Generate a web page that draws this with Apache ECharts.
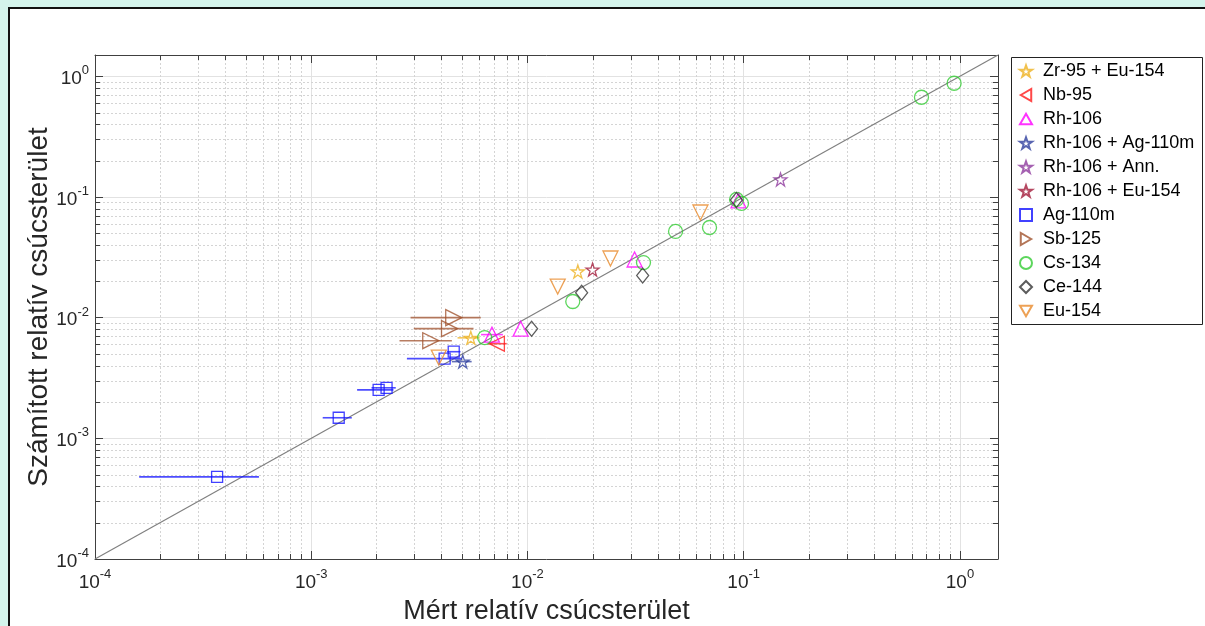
<!DOCTYPE html>
<html>
<head>
<meta charset="utf-8">
<script src="https://cdn.jsdelivr.net/npm/echarts@6/dist/echarts.min.js"></script>
<style>
html,body{margin:0;padding:0;width:1205px;height:626px;overflow:hidden;background:#d4f4ec;}
#panel{position:absolute;left:8px;top:7px;width:1197px;height:619px;background:#fff;border-left:2px solid #111;border-top:2px solid #111;}
#chart{position:absolute;left:0;top:0;width:1205px;height:626px;}
</style>
</head>
<body>
<div id="panel"></div>
<div id="chart"></div>
<script>
// ---- data (measured x, calculated y) ----
var seriesNames = ['Zr-95 + Eu-154','Nb-95','Rh-106','Rh-106 + Ag-110m','Rh-106 + Ann.','Rh-106 + Eu-154','Ag-110m','Sb-125','Cs-134','Ce-144','Eu-154'];
var zr95Eu154 = [[0.0171,0.0241],[0.00547,0.0068]];
var nb95 = [[0.00722,0.00608]];
var rh106 = [[0.00685,0.00723],[0.0093,0.0081],[0.0313,0.0303],[0.0946,0.0937]];
var rh106Ag110m = [[0.00502,0.00432]];
var rh106Ann = [[0.148,0.1397]];
var rh106Eu154 = [[0.0200,0.0250]];
var ag110m = [[0.000367,0.000479],[0.00134,0.00148],[0.00205,0.00252],[0.00223,0.00262],[0.00414,0.00457],[0.00456,0.00522]];
var sb125 = [[0.00456,0.0100],[0.00436,0.0081],[0.00357,0.00644]];
var cs134 = [[0.94,0.875],[0.664,0.67],[0.0927,0.0953],[0.0977,0.0883],[0.0695,0.0558],[0.0484,0.0518],[0.0344,0.0286],[0.0162,0.0136],[0.00634,0.00683]];
var ce144 = [[0.0341,0.0223],[0.0178,0.0161],[0.01045,0.0081],[0.0925,0.0945]];
var eu154 = [[0.0631,0.0743],[0.0242,0.0309],[0.0138,0.0181],[0.00389,0.00466]];
// horizontal error bars: [x, y, xLow, xHigh]
var zrErr = [[0.00547,0.0068,0.00475,0.00601]];
var nbErr = [[0.00722,0.00608,0.00655,0.00802]];
var rhErr = [[0.00685,0.00723,0.0061,0.0077]];
var rhAgErr = [[0.00502,0.00432,0.00447,0.00552]];
var agErr = [[0.000367,0.000479,0.000160,0.000573],[0.00134,0.00148,0.00113,0.00154],[0.00205,0.00252,0.00163,0.00240],[0.00223,0.00262,0.00190,0.00246],[0.00414,0.00457,0.00277,0.00497],[0.00456,0.00522,0.00425,0.00490]];
var sbErr = [[0.00456,0.0100,0.00288,0.00608],[0.00436,0.0081,0.00298,0.00563],[0.00357,0.00644,0.00256,0.00447]];
var identityLine = [[1e-4,1e-4],[1.5,1.5]];
var axisMin = 1e-4, axisMax = 1.5;

// ---- styling ----
var FONT = 'Liberation Sans, Arial, sans-serif';
var STAR = 'path://M50,0 L61.8,35.1 L98.8,35.1 L68.8,57 L80.2,92.1 L50,70.4 L19.8,92.1 L31.2,57 L1.2,35.1 L38.2,35.1 Z';
var TRI_UP = 'path://M50,0 L100,87 L0,87 Z';
var TRI_DOWN = 'path://M0,0 L100,0 L50,87 Z';
var TRI_LEFT = 'path://M0,50 L87,0 L87,100 Z';
var TRI_RIGHT = 'path://M87,50 L0,0 L0,100 Z';

var minorVals = [];
for (var k = -4; k <= 0; k++) {
  for (var m = 2; m <= 9; m++) {
    var v = m * Math.pow(10, k);
    if (v < axisMax) minorVals.push(v);
  }
}
var minorX = minorVals.map(function (v) { return [v, 0.01]; });
var minorY = minorVals.map(function (v) { return [0.01, v]; });

function supLabel(v) {
  var l = Math.log10(v), r = Math.round(l);
  if (Math.abs(l - r) > 1e-6) return '';
  return '{b|10}{s|' + r + '}';
}
var richLab = {
  b: {fontSize: 19, fontFamily: FONT, color: '#262626', lineHeight: 24, verticalAlign: 'bottom'},
  s: {fontSize: 13, fontFamily: FONT, color: '#262626', lineHeight: 24, verticalAlign: 'top'}
};

function scatter(name, data, symbol, size, color) {
  return {
    name: name, type: 'scatter', data: data, symbol: symbol, symbolSize: size, z: 5,
    itemStyle: {color: 'rgba(255,255,255,0)', borderColor: color, borderWidth: 1.3},
    emphasis: {disabled: true}
  };
}
function errBars(id, data, color) {
  return {
    name: id, type: 'custom', data: data, z: 4, silent: true,
    encode: {x: 0, y: 1},
    renderItem: function (params, api) {
      var p1 = api.coord([api.value(2), api.value(1)]);
      var p2 = api.coord([api.value(3), api.value(1)]);
      return {type: 'line', shape: {x1: p1[0], y1: p1[1], x2: p2[0], y2: p2[1]},
        style: {stroke: color, lineWidth: 1.6, opacity: 0.75}};
    }
  };
}
function minorSeries(id, data, isX) {
  return {
    name: id, type: 'custom', data: data, z: 1, silent: true,
    encode: {x: 0, y: 1},
    renderItem: function (params, api) {
      var cs = params.coordSys;
      var p = api.coord([api.value(0), api.value(1)]);
      var children = [];
      if (isX) {
        var x = Math.round(p[0]) + 0.5;
        children.push({type: 'line', shape: {x1: x, y1: cs.y, x2: x, y2: cs.y + cs.height}, style: {stroke: '#d4d4d4', lineWidth: 1, lineDash: [2, 2]}});
        children.push({type: 'line', shape: {x1: x, y1: cs.y + cs.height, x2: x, y2: cs.y + cs.height - 5}, style: {stroke: '#404040', lineWidth: 1}});
        children.push({type: 'line', shape: {x1: x, y1: cs.y, x2: x, y2: cs.y + 5}, style: {stroke: '#404040', lineWidth: 1}});
      } else {
        var y = Math.round(p[1]) + 0.5;
        children.push({type: 'line', shape: {x1: cs.x, y1: y, x2: cs.x + cs.width, y2: y}, style: {stroke: '#d4d4d4', lineWidth: 1, lineDash: [2, 2]}});
        children.push({type: 'line', shape: {x1: cs.x, y1: y, x2: cs.x + 5, y2: y}, style: {stroke: '#404040', lineWidth: 1}});
        children.push({type: 'line', shape: {x1: cs.x + cs.width, y1: y, x2: cs.x + cs.width - 5, y2: y}, style: {stroke: '#404040', lineWidth: 1}});
      }
      return {type: 'group', children: children};
    }
  };
}

var colors = {
  zr: '#edb120', nb: '#ff1a1a', rh: '#ff00ff', rhAg: '#2e3f9e', rhAnn: '#8e3a9e',
  rhEu: '#a21a3a', ag: '#1212ff', sb: '#a0522d', cs: '#33cc33', ce: '#333333', eu: '#e8892a'
};

var baseAxis = {
  type: 'log', logBase: 10, min: axisMin, max: axisMax,
  axisLine: {show: true, lineStyle: {color: '#404040', width: 1}},
  axisTick: {show: true, inside: true, length: 8, lineStyle: {color: '#404040'}},
  splitLine: {show: true, lineStyle: {color: '#e2e2e2', width: 1}},
  minorTick: {show: false}, minorSplitLine: {show: false}
};

var option = {
  backgroundColor: 'rgba(0,0,0,0)',
  animation: false,
  grid: {left: 95, right: 207, top: 55, bottom: 67, containLabel: false, outerBoundsMode: 'none'},
  xAxis: [
    Object.assign({}, baseAxis, {
      position: 'bottom',
      name: 'Mért relatív csúcsterület', nameLocation: 'middle', nameGap: 39,
      nameTextStyle: {fontSize: 27, fontFamily: FONT, color: '#262626'},
      axisLabel: {formatter: supLabel, rich: richLab, margin: 9, showMaxLabel: true}
    }),
    Object.assign({}, baseAxis, {position: 'top', axisLabel: {show: false}, splitLine: {show: false}})
  ],
  yAxis: [
    Object.assign({}, baseAxis, {
      position: 'left',
      name: 'Számított relatív csúcsterület', nameLocation: 'middle', nameGap: 42,
      nameMoveOverlap: false,
      nameTextStyle: {fontSize: 28, fontFamily: FONT, color: '#262626'},
      axisLabel: {formatter: supLabel, rich: richLab, margin: 6}
    }),
    Object.assign({}, baseAxis, {position: 'right', axisLabel: {show: false}, splitLine: {show: false}})
  ],
  legend: {
    orient: 'vertical', left: 1019, top: 62, itemWidth: 12, itemHeight: 12, itemGap: 6,
    padding: 0, data: seriesNames, selectedMode: false,
    textStyle: {fontSize: 18, lineHeight: 18, fontFamily: FONT, color: '#000', padding: [0, 0, 0, 6]}
  },
  graphic: [{
    type: 'rect', left: 1009, top: 55, shape: {width: 191, height: 267},
    style: {fill: 'none', stroke: '#222', lineWidth: 1}, z: 0
  }],
  series: [
    minorSeries('minorX', minorX, true),
    minorSeries('minorY', minorY, false),
    {name: 'identity', type: 'line', data: identityLine, symbol: 'none', z: 3, silent: true,
     lineStyle: {color: '#808080', width: 1.2}},
    errBars('errZr', zrErr, colors.zr),
    errBars('errNb', nbErr, colors.nb),
    errBars('errRh', rhErr, colors.rh),
    errBars('errRhAg', rhAgErr, colors.rhAg),
    errBars('errAg', agErr, colors.ag),
    errBars('errSb', sbErr, colors.sb),
    scatter(seriesNames[0], zr95Eu154, STAR, 13, colors.zr),
    scatter(seriesNames[1], nb95, TRI_LEFT, 15, colors.nb),
    scatter(seriesNames[2], rh106, TRI_UP, 15, colors.rh),
    scatter(seriesNames[3], rh106Ag110m, STAR, 13, colors.rhAg),
    scatter(seriesNames[4], rh106Ann, STAR, 13, colors.rhAnn),
    scatter(seriesNames[5], rh106Eu154, STAR, 13, colors.rhEu),
    scatter(seriesNames[6], ag110m, 'rect', 11, colors.ag),
    scatter(seriesNames[7], sb125, TRI_RIGHT, 16, colors.sb),
    scatter(seriesNames[8], cs134, 'circle', 14, colors.cs),
    scatter(seriesNames[9], ce144, 'diamond', [12, 15], colors.ce),
    scatter(seriesNames[10], eu154, TRI_DOWN, 15, colors.eu)
  ]
};
var chart = echarts.init(document.getElementById('chart'), null, {renderer: 'canvas'});
chart.setOption(option);
</script>
</body>
</html>
